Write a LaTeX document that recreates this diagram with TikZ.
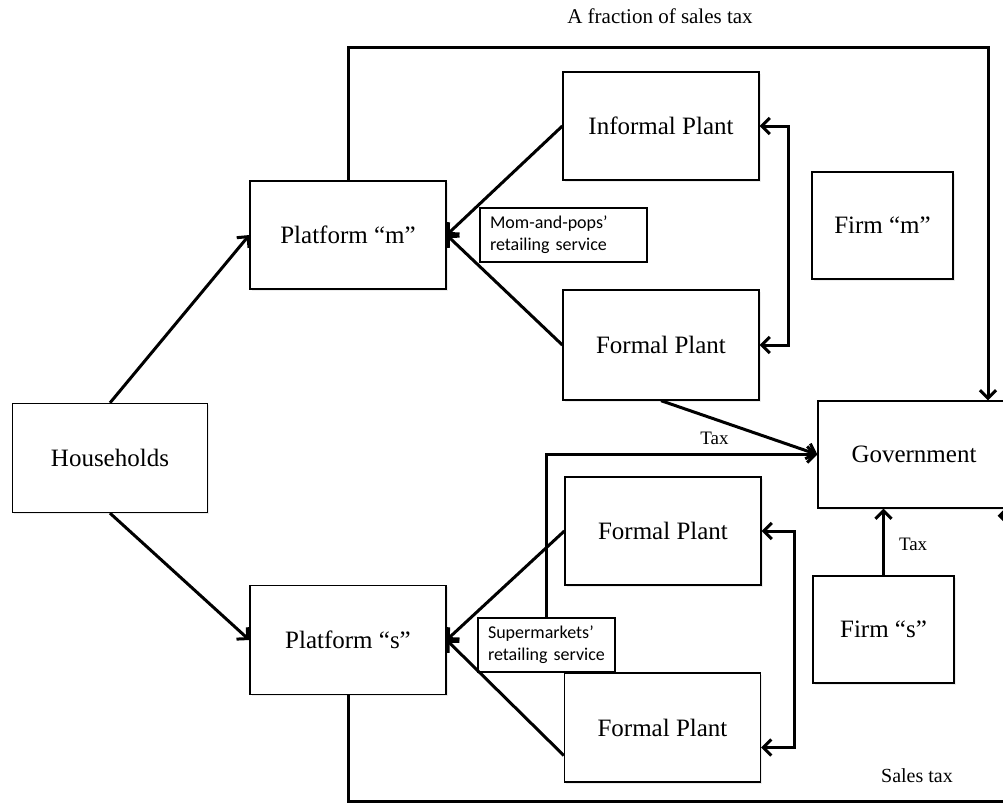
\documentclass[tikz,border=0pt]{standalone}
\usepackage{fontspec}
\setmainfont{Liberation Serif}
\newfontfamily\calibfont{Carlito}
\usepackage{tikz}
\usetikzlibrary{
  positioning,
  arrows.meta,
  calc,
  shadows
}
\tikzset{
  box/.style={
    draw, line width=0.65pt, fill=white,
    drop shadow={opacity=0.15, shadow xshift=0.9pt, shadow yshift=-0.9pt},
    minimum height=54pt,
    minimum width=98pt,
    inner sep=0pt,
    font=\fontsize{12.5}{15}\selectfont,
    align=center
  },
  firmbox/.style={
    box,
    minimum width=70.5pt,
    minimum height=53.5pt
  },
  notebox/.style={
    draw, line width=0.6pt, fill=white,
    minimum height=27pt,
    inner xsep=5pt, inner ysep=0pt,
    text width=#1, align=left,
    font=\calibfont\fontsize{9}{11}\selectfont
  },
  flow/.style={-{Straight Barb[length=4pt, width=8pt]}, line width=1.5pt, black},
  dflow/.style={{Straight Barb[length=4pt, width=8pt]}-{Straight Barb[length=4pt, width=8pt]}, line width=1.5pt, black},
  taxlabel/.style={font=\fontsize{9.5}{11}\selectfont, text=black, inner sep=1pt}
}

\begin{document}
\begin{tikzpicture}[
  x=0.5pt, y=-0.5pt,
]
\clip (0,0) rectangle (1003,805);

% left side: households and platforms
\node[box, minimum width=97.5pt, minimum height=54.5pt] (hh) at (110, 458) {Households};
\node[box] (pm) at (348, 235) {Platform ``m''};
\node[box, minimum height=54.5pt] (ps) at (348, 640) {Platform ``s''};

% plants (column at x=662)
\node[box] (inf) at (661, 126) {Informal Plant};
\node[box, minimum height=55pt] (fpm) at (661, 345) {Formal Plant};
\node[box] (fps1) at (663, 531) {Formal Plant};
\node[box, minimum height=54.5pt] (fps2) at (662.5, 727.5) {Formal Plant};

% firms and government
\node[firmbox] (fm) at (882.5, 225.5) {Firm ``m''};
\node[firmbox] (fs) at (883.5, 629.5) {Firm ``s''};
\node[box, minimum width=96pt, minimum height=53.5pt] (gov) at (914, 454.5) {Government};

% retailing service notes
\node[notebox=73.5pt] (mom) at (563.5, 235) {Mom-and-pops’\\retailing~service};
\node[notebox=58.5pt] (smk) at (546.5, 645) {Supermarkets’\\retailing~service};

\coordinate (fracR) at (988, 47);
\coordinate (salesR) at (1012, 801);

% households to platforms
\draw[flow] (hh.north) -- (pm.west);
\draw[flow] (hh.south) -- (ps.west);

% plants to platforms
\draw[flow] (inf.west) -- (pm.east);
\draw[flow] (fpm.west) -- (pm.east);
\draw[flow] (fps1.west) -- (ps.east);
\draw[flow] ($(fps2.west)+(0,28)$) -- (ps.east);
\draw[dflow] (inf.east) -- ++(29,0) |- (fpm.east);
\draw[dflow] (fps1.east) -- ++(33,0) |- ($(fps2.east)+(0,20)$);

% taxes
\draw[flow] (fpm.south) -- (gov.west);
\draw[flow] (smk.north) |- (gov.west) node[pos=0.81, above, taxlabel, yshift=3pt] {Tax};
\draw[flow] (fs.north) -- (fs.north |- gov.south) node[midway, right, taxlabel, xshift=6pt, yshift=-1pt] {Tax};
\draw[flow] (pm.north) |- (fracR) -- (fracR |- gov.north);
\node[taxlabel, font=\fontsize{10.5}{12}\selectfont] (fraclbl) at (660, 16) {A fraction of sales tax};
\draw[flow] (ps.south) |- (salesR) |- ($(gov.south east)+(-13,7)$);
\node[taxlabel, font=\fontsize{10}{12}\selectfont] (saleslbl) at (917, 776) {Sales tax};

\end{tikzpicture}
\end{document}
